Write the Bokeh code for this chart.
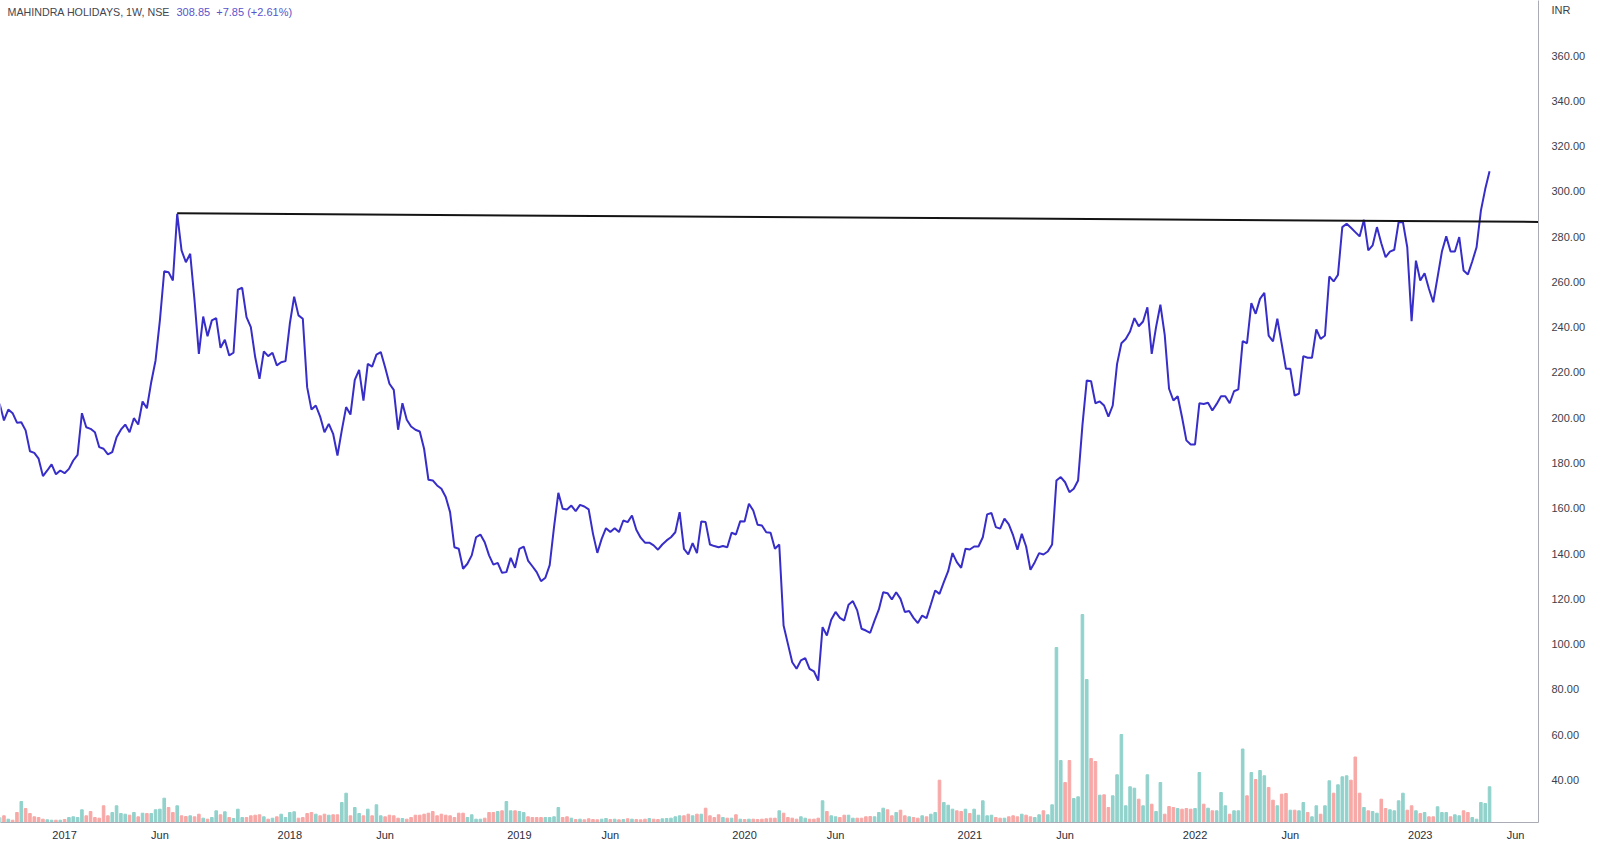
import numpy as np
import pandas as pd
from bokeh.plotting import figure
from bokeh.models import (Range1d, FixedTicker, CustomJSTickFormatter, Label,
                          ColumnDataSource)
from bokeh.embed import file_html
from bokeh.resources import INLINE

# ---------------- data (weekly bars) ----------------
first_week = "2016-09-19"

close = [
    206.2, 198.8, 203.6, 202.0, 197.8, 198.0, 194.4, 185.2, 184.5, 181.9,
    174.2, 176.7, 179.4, 175.0, 176.7, 175.5, 177.4, 181.1, 183.6, 202.0,
    195.8, 195.1, 193.6, 187.0, 186.3, 183.8, 184.8, 191.4, 194.7, 197.0,
    193.6, 199.8, 197.0, 207.2, 204.2, 215.7, 225.3, 243.0, 264.7, 264.3,
    260.6, 290.1, 273.9, 268.7, 272.4, 251.8, 228.2, 244.7, 236.0, 243.0,
    244.0, 230.9, 234.4, 227.5, 228.7, 256.6, 257.4, 244.4, 240.0, 226.8,
    217.2, 229.3, 227.2, 228.7, 223.1, 224.5, 225.0, 241.5, 253.5, 245.2,
    243.7, 213.5, 203.6, 205.4, 200.5, 193.6, 197.3, 192.9, 183.3, 194.4,
    204.7, 201.4, 216.7, 221.1, 207.6, 223.8, 222.6, 227.9, 229.0, 222.3,
    215.0, 212.3, 194.7, 206.4, 199.1, 196.1, 194.7, 193.9, 186.3, 172.6,
    172.3, 170.1, 168.6, 165.0, 158.3, 142.8, 142.1, 133.3, 135.5, 139.2,
    147.2, 148.4, 145.0, 139.2, 135.1, 135.9, 131.5, 131.8, 138.1, 133.7,
    142.1, 143.1, 136.9, 134.4, 131.8, 127.8, 129.3, 134.9, 151.7, 166.8,
    159.8, 159.5, 161.2, 158.7, 161.5, 160.8, 159.5, 148.7, 140.3, 146.5,
    151.2, 149.5, 151.2, 149.5, 154.6, 153.9, 156.8, 150.5, 147.0, 144.8,
    144.8, 143.6, 141.7, 144.0, 145.8, 147.2, 149.4, 158.3, 142.1, 139.6,
    144.6, 140.2, 154.2, 153.9, 144.0, 143.3, 142.8, 143.3, 142.8, 149.2,
    148.4, 154.3, 154.2, 162.0, 159.0, 152.7, 152.4, 149.4, 149.2, 142.1,
    144.0, 108.2, 100.1, 92.0, 89.1, 92.8, 93.8, 89.1, 88.0, 83.9,
    107.5, 103.8, 110.8, 114.2, 111.6, 110.4, 117.4, 119.0, 114.9, 106.8,
    106.0, 105.0, 110.4, 115.3, 122.9, 122.5, 119.7, 122.9, 120.0, 114.2,
    114.6, 111.6, 109.3, 112.6, 111.5, 117.5, 123.7, 122.2, 127.4, 132.2,
    140.2, 136.2, 133.7, 142.1, 141.8, 143.1, 143.1, 147.2, 157.3, 157.9,
    151.7, 151.0, 155.4, 152.9, 148.0, 141.7, 148.7, 143.1, 132.8, 136.2,
    140.2, 139.6, 140.9, 144.0, 172.3, 173.8, 171.5, 167.1, 168.6, 172.3,
    196.6, 216.5, 216.1, 206.4, 207.2, 205.4, 200.5, 205.4, 223.8, 232.9,
    234.8, 238.1, 244.0, 240.4, 242.5, 248.8, 228.2, 240.0, 249.9, 236.6,
    212.8, 207.6, 209.5, 200.2, 190.0, 188.2, 188.2, 206.4, 206.1, 206.6,
    203.2, 206.1, 209.5, 209.5, 206.4, 211.7, 212.5, 233.8, 232.9, 250.6,
    245.9, 252.5, 255.2, 236.3, 233.7, 243.7, 232.7, 221.6, 221.6, 209.8,
    210.6, 227.2, 226.5, 226.5, 239.0, 234.8, 236.3, 262.4, 260.2, 263.1,
    284.2, 285.7, 283.9, 282.0, 280.1, 287.4, 273.9, 276.1, 284.2, 277.1,
    270.9, 273.4, 274.2, 286.4, 286.4, 275.3, 242.6, 269.4, 260.6, 263.8,
    257.0, 251.0, 262.1, 273.4, 280.1, 273.4, 273.4, 279.8, 265.0, 263.3,
    269.0, 275.3, 291.5, 301.0, 308.85,
]

# weekly volume (relative units)
volume = [
    5, 6.7, 3.3, 2.3, 10, 21, 14, 9, 5.7, 5,
    3.3, 2.7, 2.3, 2.3, 2.3, 3, 5, 5.7, 5, 12.7,
    6.7, 11, 5, 4.3, 16.7, 6.7, 10, 16.7, 9, 8.3,
    7.3, 10, 5.7, 9.3, 9, 9, 12.7, 13.3, 24.3, 15,
    10, 16.7, 6.7, 6, 6.7, 5.7, 8.3, 4.3, 3.3, 5,
    11.7, 7.7, 10.7, 5, 4, 13.3, 5, 5, 6.7, 7.3,
    7.7, 5.7, 3.3, 4.3, 5.7, 8.3, 5, 10, 10.7, 4.3,
    5, 9, 10, 8.3, 6.7, 8.3, 7.3, 7.7, 7.7, 20,
    29.3, 6.7, 15, 9, 6.7, 13.3, 6.7, 17.7, 6.7, 5.7,
    7.3, 6.7, 4.3, 4, 3.3, 5, 7.3, 7.3, 8.3, 9.3,
    11, 6.7, 8.3, 7.3, 6.7, 5, 9.3, 9.3, 5, 7.7,
    3.3, 3.3, 4.3, 10, 10, 11, 11.7, 21, 11.7, 11.7,
    11, 10, 5.7, 5, 5, 5, 5, 5, 5.7, 15,
    5, 5.7, 4.3, 3, 3.3, 2.7, 3.7, 3, 2.7, 3.3,
    4, 3, 3.3, 2.7, 3, 3.7, 3.3, 3, 2.7, 3.3,
    4, 3.3, 3, 3.7, 4, 4.3, 5.7, 6.7, 6.7, 8.3,
    6.7, 8.3, 8.3, 14.3, 6.7, 5, 7.7, 5, 4.3, 4.3,
    7.7, 3.3, 3, 3.3, 3.3, 3, 3.3, 3.7, 4.3, 4.3,
    11.7, 9.3, 5, 4.3, 3.3, 5.7, 4.3, 3.3, 3.3, 4.3,
    21.7, 11, 6.7, 5.7, 5, 7.3, 7.3, 4.3, 4.3, 4.3,
    5.7, 6, 5.7, 10, 14.3, 12.7, 6.7, 10, 12.3, 6.7,
    5.7, 5, 4.3, 6.7, 5.7, 8.3, 10, 42.3, 20, 17.3,
    13.3, 11.7, 11, 13.3, 9, 13.3, 7.3, 21.7, 6.7, 7.3,
    5, 4.3, 4.3, 5.7, 6.7, 5.7, 8.3, 7.3, 5.7, 5,
    7.7, 11.7, 7.7, 17.7, 175, 62, 40, 62, 24, 25.7,
    208, 143, 64, 61, 27.3, 27.7, 15, 26.7, 47.7, 88,
    16.7, 35.7, 34.3, 23.3, 16.7, 47.7, 18.3, 11, 40, 8.3,
    16, 15, 14, 13.3, 14, 13.3, 14, 50, 18.3, 14.3,
    11.7, 11.7, 30, 16.7, 8.3, 11.7, 11.7, 73.5, 26.7, 50,
    43, 52, 46.7, 35, 22.3, 16.7, 28.3, 29, 12.3, 12.3,
    11.7, 20, 10, 5.7, 16.7, 8.3, 16.7, 41.7, 29.3, 37.7,
    45.7, 46.7, 42.3, 65.5, 29.3, 15, 11.7, 11, 9.3, 23.3,
    14, 12.7, 11.7, 21.7, 29.3, 12.3, 16.7, 11.7, 9, 10,
    5.7, 5.7, 15.7, 10, 10, 5.7, 7.7, 6.7, 11.7, 10,
    5, 3.3, 20, 19, 35.7,
]

trend_dates = ["2017-07-03", "2023-07-15"]
trend_values = [290.3, 286.5]

price_ticks = [40, 60, 80, 100, 120, 140, 160, 180, 200, 220, 240, 260,
               280, 300, 320, 340, 360]
currency_tick = 380          # position of the "INR" caption on the price scale
time_tick_months = [(2017, 1), (2017, 6), (2018, 1), (2018, 6), (2019, 1),
                    (2019, 6), (2020, 1), (2020, 6), (2021, 1), (2021, 6),
                    (2022, 1), (2022, 6), (2023, 1), (2023, 6)]

title_text = "MAHINDRA HOLIDAYS, 1W, NSE"
quote_text = "308.85\u00a0 +7.85 (+2.61%)"

# ---------------- derived ----------------
n = min(len(close), len(volume))
close = close[:n]
volume = volume[:n]
dates = pd.date_range(first_week, periods=n, freq="7D")
bars = pd.date_range(first_week, periods=420, freq="7D")
tick_ms = []
for (yy, mm) in time_tick_months:
    sel = bars[(bars.year == yy) & (bars.month == mm)]
    tick_ms.append(sel[0].timestamp() * 1000.0)

up_color = "#92d2cc"
down_color = "#f7a9a7"
vol_colors = [up_color if i == 0 or close[i] >= close[i - 1] else down_color
              for i in range(n)]

week = pd.Timedelta(days=7)
x_start = pd.Timestamp(first_week) + 0.2 * week
x_end = pd.Timestamp(first_week) + 355.3 * week

FONT = "Liberation Sans"

p = figure(width=1600, height=850, x_axis_type="datetime",
           x_range=Range1d(x_start, x_end), y_range=Range1d(21.2, 384.3),
           y_axis_location="right", output_backend="svg",
           toolbar_location=None, min_border_left=0, min_border_right=62,
           min_border_top=0, min_border_bottom=28)
p.extra_y_ranges = {"vol": Range1d(0, 822)}
p.background_fill_color = "white"
p.border_fill_color = "white"
p.outline_line_color = None
p.grid.visible = False

src_v = ColumnDataSource(dict(x=dates, top=volume, color=vol_colors))
p.vbar(x="x", top="top", bottom=0, width=0.6 * 7 * 86400000, color="color",
       y_range_name="vol", source=src_v)

p.line(dates, close, line_color="#372dc8", line_width=2)
p.line(pd.to_datetime(trend_dates), trend_values, line_color="#141414",
       line_width=2)

# price axis (right)
ya = p.yaxis[0]
ya.ticker = FixedTicker(ticks=price_ticks + [currency_tick])
ya.formatter = CustomJSTickFormatter(code="""
    return tick > 370 ? "INR" : tick.toFixed(2);
""")
ya.major_tick_out = 0
ya.major_tick_in = 0
ya.minor_tick_out = 0
ya.minor_tick_in = 0
ya.axis_line_color = "#a9acb5"
ya.major_label_standoff = 13
ya.major_label_text_font = FONT
ya.major_label_text_font_size = "11px"
ya.major_label_text_color = "#3d4049"

# time axis (below)
xa = p.xaxis[0]
xa.ticker = FixedTicker(ticks=tick_ms)
xa.formatter = CustomJSTickFormatter(code="""
    const d = new Date(tick);
    return d.getUTCMonth() == 0 ? String(d.getUTCFullYear()) : "Jun";
""")
xa.major_tick_out = 0
xa.major_tick_in = 0
xa.minor_tick_out = 0
xa.minor_tick_in = 0
xa.axis_line_color = "#a9acb5"
xa.major_label_standoff = 6
xa.major_label_text_font = FONT
xa.major_label_text_font_size = "11px"
xa.major_label_text_color = "#2a2e39"

# header texts
p.add_layout(Label(x=7, y=811, x_units="screen", y_units="screen",
                   text=title_text, text_font=FONT, text_font_size="10.7px",
                   text_color="#434651", text_baseline="middle"))
p.add_layout(Label(x=176, y=811, x_units="screen", y_units="screen",
                   text=quote_text, text_font=FONT, text_font_size="11px",
                   text_color="#5a54cc", text_baseline="middle"))

open("out.html", "w").write(file_html(p, INLINE))
